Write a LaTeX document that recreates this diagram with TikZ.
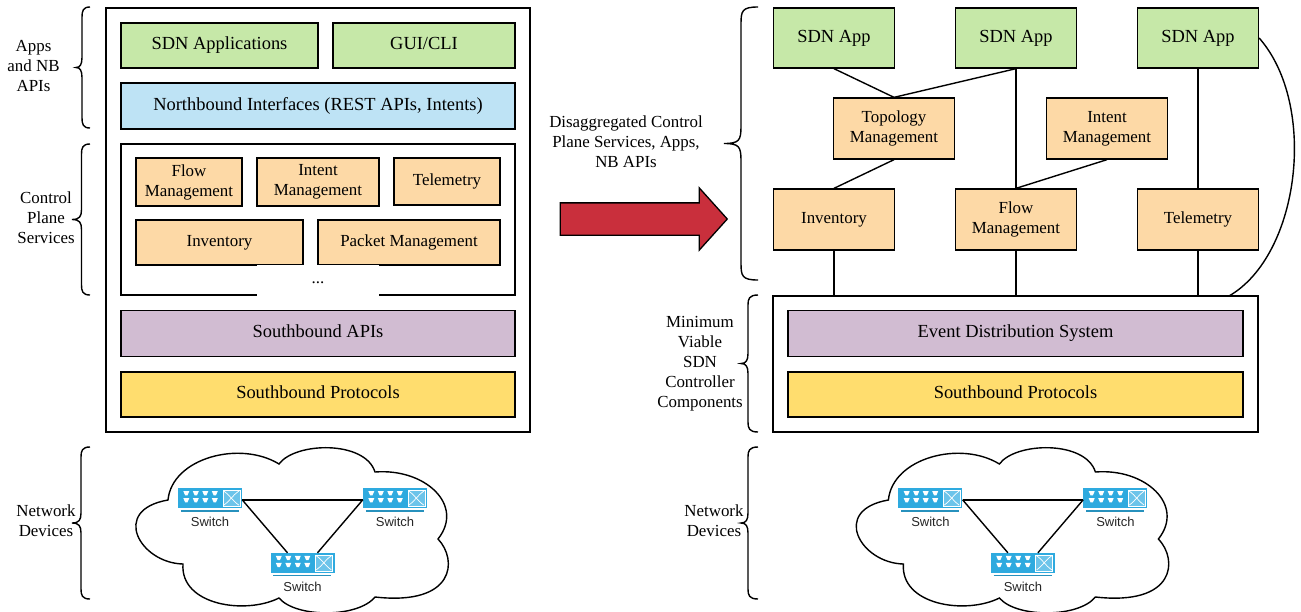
\documentclass[tikz,border=0pt]{standalone}
\usepackage{fontspec}
\setmainfont{Liberation Serif}
\newfontfamily\switchfont{Liberation Sans}
\usetikzlibrary{shapes.arrows}

\definecolor{appgreen}{HTML}{C6E8A8}
\definecolor{apiblue}{HTML}{BEE3F5}
\definecolor{mgmtorange}{HTML}{FDD9A6}
\definecolor{apipurple}{HTML}{D1BCD2}
\definecolor{protoyellow}{HTML}{FFDD6E}
\definecolor{arrowred}{HTML}{C92F3C}
\definecolor{switchblue}{HTML}{2EAADF}
\definecolor{switchlight}{HTML}{6CC4EA}

\tikzset{
  link/.style = {draw = black, line width = 1.4pt},
  framebox/.style = {draw = black, line width = 1.3pt, fill = white, shape = rectangle, inner sep = 0pt},
  bigtext/.style = {font = \fontsize{18.45}{20}\selectfont, align = center, text height = 12pt, text depth = 4pt},
  smalltext/.style = {font = \fontsize{16.9}{20}\selectfont, align = center},
  appbox/.style = {framebox, fill = appgreen, bigtext},
  nbbox/.style = {framebox, fill = apiblue, bigtext},
  mgmtbox/.style = {framebox, fill = mgmtorange, smalltext},
  apibox/.style = {framebox, fill = apipurple, bigtext},
  protobox/.style = {framebox, fill = protoyellow, bigtext},
  sidetext/.style = {smalltext, inner sep = 0pt},
  switchbox/.style = {fill = switchblue, minimum width = 64, minimum height = 20, inner sep = 0pt, shape = rectangle},
  switchtext/.style = {font = \fontsize{13}{15}\switchfont\selectfont, inner sep = 0pt, text = black!85},
}

\newcommand{\switchnode}[3]{
  \node[switchbox] (#1) at (#2) {};
  \begin{scope}[shift = {(#1.north west)}]
    \foreach \portx in {8.5,18,27.5,37} {
      \foreach \porty in {5,12} {
        \fill[white] (\portx-3,\porty-2) -- (\portx+3,\porty-2) -- (\portx+1.2,\porty+2.2) -- (\portx-1.2,\porty+2.2) -- cycle;
      }
    }
    \draw[white, fill = switchlight, line width = 0.6pt] (45,2) rectangle (62,18);
    \draw[white, line width = 0.7pt] (46,3) .. controls (53,8) and (54,12) .. (61,17);
    \draw[white, line width = 0.7pt] (61,3) .. controls (54,8) and (53,12) .. (46,17);
    \draw[switchblue!85!black, line width = 1.3pt] (3,23) -- (61,23);
  \end{scope}
  \node[switchtext] (#3) at ([yshift = -13.5]#1.south) {Switch};
}

\newcommand{\sidebrace}[6]{
  \draw[link] (#3,#4) .. controls (#2+1,#4) and (#2,#4+4) .. (#2,#4+#6)
    -- (#2,#4/2+#5/2-#6) .. controls (#2,#4/2+#5/2-3) and (#2-2,#4/2+#5/2) .. (#1,#4/2+#5/2)
    .. controls (#2-2,#4/2+#5/2) and (#2,#4/2+#5/2+3) .. (#2,#4/2+#5/2+#6)
    -- (#2,#5-#6) .. controls (#2,#5-4) and (#2+1,#5) .. (#3,#5);
}

\begin{document}
\begin{tikzpicture}[x = 1pt, y = -1pt]
\useasboundingbox (0,0) rectangle (1301,611);

\node[framebox, minimum width = 424, minimum height = 424] (oldctrl) at (318,220) {};
\node[appbox, minimum width = 197, minimum height = 45] (oldapps) at (219.5,45.5) {SDN Applications};
\node[appbox, minimum width = 182, minimum height = 45] (oldgui) at (424,45.5) {GUI/CLI};
\node[nbbox, minimum width = 394, minimum height = 46] (oldnb) at (318,106) {Northbound Interfaces (REST APIs, Intents)};
\node[framebox, minimum width = 394, minimum height = 151] (oldservices) at (318,219.5) {};
\node[mgmtbox, minimum width = 106, minimum height = 48] (oldflow) at (189,182) {Flow\\Management};
\node[mgmtbox, minimum width = 122, minimum height = 48] (oldintent) at (318,182) {Intent\\Management};
\node[mgmtbox, minimum width = 106, minimum height = 47] (oldtele) at (447,181.5) {Telemetry};
\node[mgmtbox, minimum width = 167, minimum height = 45] (oldinv) at (219.5,242.5) {Inventory};
\node[mgmtbox, minimum width = 182, minimum height = 45] (oldpacket) at (409,242.5) {Packet Management};
\node[fill = white, smalltext, inner sep = 0pt, text height = 7pt, minimum width = 122, minimum height = 31] (olddots) at (318,280) {...};
\node[apibox, minimum width = 394, minimum height = 46] (oldsb) at (318,333.5) {Southbound APIs};
\node[protobox, minimum width = 394, minimum height = 45] (oldproto) at (318,394.5) {Southbound Protocols};

\node[sidetext] (appslabel) at (33.5,66.5) {Apps\\and NB\\APIs};
\node[sidetext] (serviceslabel) at (46,218) {Control\\Plane\\Services};
\node[sidetext] (oldnetlabel) at (46,521) {Network\\Devices};
\node[sidetext] (disaglabel) at (626,142) {Disaggregated Control\\Plane Services, Apps,\\NB APIs};
\node[sidetext] (minlabel) at (700,364) {Minimum\\Viable\\SDN\\Controller\\Components};
\node[sidetext] (newnetlabel) at (714,521) {Network\\Devices};

\sidebrace{76}{82}{90}{7}{128}{10}
\sidebrace{72}{81.5}{90}{144}{295}{10}
\sidebrace{72}{81}{90}{447}{599}{10}
\sidebrace{724}{741}{758}{7}{280}{17}
\sidebrace{741}{748}{758}{295}{432}{10}
\sidebrace{741}{748}{758}{447}{599}{10}

\node[draw = black, line width = 1.3pt, fill = arrowred, shape = single arrow, single arrow head extend = 15, single arrow tip angle = 96, inner sep = 15.5, minimum height = 167, text width = 0pt] (bigarrow) at (636.5,219) {};

\node[framebox, minimum width = 485, minimum height = 136] (newctrl) at (1015.5,364) {};
\node[apibox, minimum width = 455, minimum height = 46] (events) at (1015.5,333.5) {Event Distribution System};
\node[protobox, minimum width = 455, minimum height = 45] (newproto) at (1015.5,394.5) {Southbound Protocols};
\coordinate (newctrlhook) at (1229,296);

\node[appbox, minimum width = 121, minimum height = 60] (app1) at (834,38) {SDN App};
\node[appbox, minimum width = 121, minimum height = 60] (app2) at (1016,38) {SDN App};
\node[appbox, minimum width = 121, minimum height = 60] (app3) at (1198,38) {SDN App};
\node[mgmtbox, minimum width = 121, minimum height = 61] (topo) at (894,128.5) {Topology\\Management};
\node[mgmtbox, minimum width = 121, minimum height = 61] (intent) at (1107,128.5) {Intent\\Management};
\node[mgmtbox, minimum width = 121, minimum height = 61] (inv) at (834,219.5) {Inventory};
\node[mgmtbox, minimum width = 121, minimum height = 61] (flow) at (1016,219.5) {Flow\\Management};
\node[mgmtbox, minimum width = 121, minimum height = 61] (tele) at (1198,219.5) {Telemetry};

\draw[link] (app1.south) -- (topo.north);
\draw[link] (app2.south) -- (topo.north);
\draw[link] (app2.south) -- (flow.north);
\draw[link] (app3.south) -- (tele.north);
\draw[link] (topo.south) -- (inv.north);
\draw[link] (intent.south) -- (flow.north);
\draw[link] (inv.south) -- (inv.south |- newctrl.north);
\draw[link] (flow.south) -- (flow.south |- newctrl.north);
\draw[link] (tele.south) -- (tele.south |- newctrl.north);
\draw[link] (app3.east) .. controls (1318,105) and (1300,255) .. (newctrlhook);

\foreach \side/\shiftx in {old/0,new/720.4} {
  \begin{scope}[xshift = \shiftx, name prefix = \side]
    \draw[link, fill = white] (168,500) .. controls (172,458) and (240,440) .. (279,464)
      .. controls (295,442) and (365,440) .. (375,472)
      .. controls (425,468) and (465,505) .. (438,539)
      .. controls (458,560) and (455,606) .. (375,597)
      .. controls (358,618) and (296,618) .. (279,598)
      .. controls (245,615) and (180,605) .. (183,564)
      .. controls (140,563) and (110,510) .. (168,500) -- cycle;
    \switchnode{swa}{210,498.3}{swatext}
    \switchnode{swb}{395,498.3}{swbtext}
    \switchnode{swc}{302.5,563}{swctext}
    \draw[link] ([yshift = -1.5]swa.east) -- ([yshift = -1.5]swb.west);
    \draw[link] ([yshift = -1.5]swa.east) -- ([xshift = -15]swc.north);
    \draw[link] ([yshift = -1.5]swb.west) -- ([xshift = 15]swc.north);
  \end{scope}
}
\end{tikzpicture}
\end{document}
